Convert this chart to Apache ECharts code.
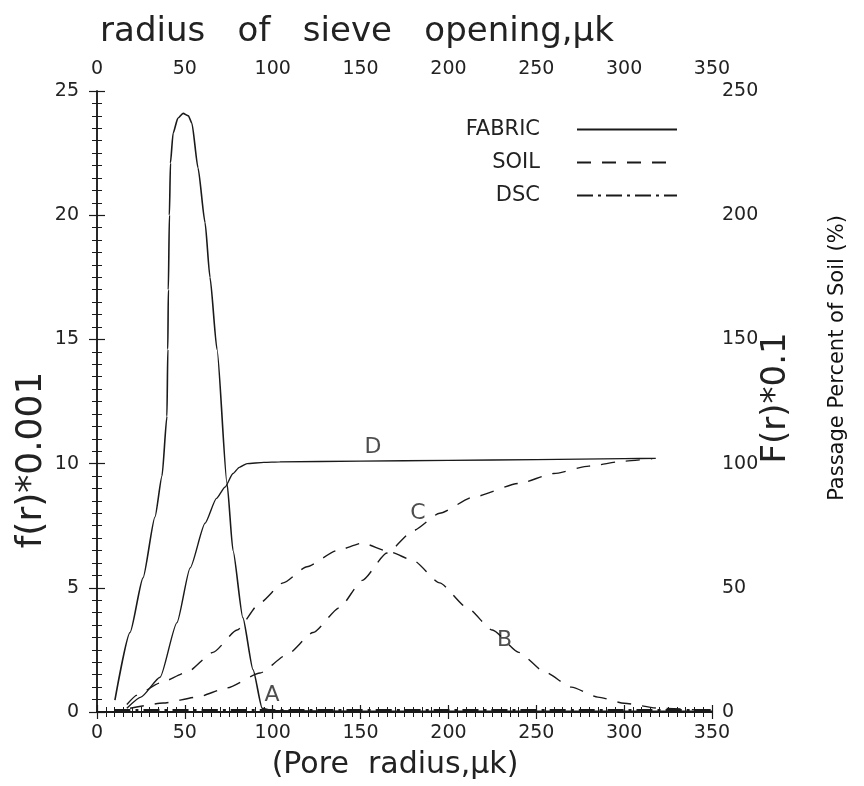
<!DOCTYPE html>
<html><head><meta charset="utf-8">
<script src="https://cdn.jsdelivr.net/npm/echarts@6/dist/echarts.min.js"></script>
<style>html,body{margin:0;padding:0;background:#fff}#c{width:864px;height:786px}</style>
</head><body><div id="c"></div>
<script>
// ---- data ----
// Curve A: fabric pore-size density f(r) (left axis, x0.001)
const fabricPdfX = [10.2, 18.8, 26.2, 33.0, 37.0, 39.8, 40.3, 40.6, 41.2, 41.8, 43.3, 46, 49, 52, 54, 57.5, 61.5, 64.3, 68.3, 74, 77.4, 83, 88.8, 94, 100, 150, 200, 250, 300, 350];
const fabricPdfY = [0.48, 3.2, 5.4, 7.85, 9.5, 11.9, 14.6, 17.0, 20.0, 22.1, 23.3, 23.9, 24.1, 24.0, 23.7, 21.9, 19.7, 17.5, 14.6, 9.2, 6.5, 3.8, 1.7, 0.15, 0.05, 0.03, 0.03, 0.03, 0.03, 0.03];
// Curve D: fabric cumulative F(r) (right axis, %)
const fabricCumX = [17, 25, 35.9, 45.5, 53, 61.5, 68, 72.9, 77.4, 81, 85.4, 95, 104, 150, 200, 250, 300, 318];
const fabricCumY = [1.5, 6, 14, 36, 58, 76, 86, 90.6, 96, 98.5, 100, 100.5, 100.7, 101, 101.3, 101.6, 102, 102.1];
// Curve B: soil density f(r) (left axis)
const soilPdfX = [17, 22.8, 35.9, 51.2, 66, 79.7, 92.8, 106, 119.5, 136.6, 151, 166.8, 180, 195, 210.6, 225, 240, 255, 270, 285, 300, 320, 350];
const soilPdfY = [0.3, 0.68, 1.17, 1.6, 2.4, 3.3, 4.4, 5.2, 5.85, 6.5, 6.8, 6.44, 6.1, 5.2, 4.2, 3.3, 2.4, 1.6, 1.0, 0.6, 0.35, 0.15, 0.05];
// Curve C: soil cumulative (right axis, %)
const soilCumX = [18.8, 37.6, 57, 74, 92.8, 108, 123, 138, 151, 165, 180, 195, 214, 240, 260, 280, 300, 316];
const soilCumY = [1.5, 3.6, 6, 9.7, 15.7, 23, 32, 42, 53, 64, 73, 80, 86.5, 92, 96, 99, 101, 102];
// DSC: lies along the base line
const dscX = [10, 100, 200, 300, 350];
const dscY = [0.08, 0.08, 0.08, 0.08, 0.08];
// curve letters
const annText = ['A', 'B', 'C', 'D'];
const annX = [99.6, 232, 182.7, 157];
const annY = [0.68, 2.9, 8.0, 10.67];
// axis ticks
const xMin = 0, xMax = 350, xStep = 50;
const yLeftMax = 25, yLeftStep = 5;
const yRightMax = 250, yRightStep = 50;

const zip = (xs, ys) => xs.map((x, i) => [x, ys[i]]);
const FONT = 'DejaVu Sans';
const ink = '#1a1a1a';

const xAxisBase = {
  type: 'value', min: xMin, max: xMax, interval: xStep,
  axisLine: {show: true, lineStyle: {color: ink, width: 2}},
  axisTick: {show: true, inside: false, length: 7, lineStyle: {color: ink, width: 1.2}},
  minorTick: {show: true, splitNumber: 10, length: 5, lineStyle: {color: ink, width: 1}},
  splitLine: {show: false},
  axisLabel: {fontSize: 19, color: '#222', fontFamily: FONT, margin: 12}
};
const yAxisBase = {
  type: 'value', min: 0,
  axisLine: {show: true, lineStyle: {color: ink, width: 1.5}},
  axisTick: {show: true, inside: false, length: 8, lineStyle: {color: ink, width: 1.2}},
  minorTick: {show: true, splitNumber: 10, length: 5, lineStyle: {color: ink, width: 1}},
  splitLine: {show: false},
  axisLabel: {fontSize: 19, color: '#222', fontFamily: FONT, margin: 10}
};

const lineSeries = (name, data, yIdx, type, width) => ({
  name, type: 'line', data, xAxisIndex: 0, yAxisIndex: yIdx,
  symbol: 'none', smooth: 0.2, smoothMonotone: 'x',
  lineStyle: {color: ink, width, type},
  itemStyle: {color: ink}, z: 3
});

const chart = echarts.init(document.getElementById('c'), null, {renderer: 'canvas'});
chart.setOption({
  animation: false,
  backgroundColor: '#fff',
  grid: {left: 97, right: 152, top: 91, bottom: 74},
  xAxis: [
    Object.assign({}, xAxisBase, {position: 'bottom'}),
    Object.assign({}, xAxisBase, {position: 'top'})
  ],
  yAxis: [
    Object.assign({}, yAxisBase, {position: 'left', max: yLeftMax, interval: yLeftStep,
      axisLabel: Object.assign({}, yAxisBase.axisLabel, {margin: 18})}),
    Object.assign({}, yAxisBase, {position: 'right', max: yRightMax, interval: yRightStep})
  ],
  legend: {
    data: ['FABRIC', 'SOIL', 'DSC'],
    orient: 'vertical', align: 'right',
    right: 181, top: 114,
    itemWidth: 100, itemHeight: 14, itemGap: 12,
    itemStyle: {opacity: 0},
    textStyle: {fontSize: 21, fontFamily: FONT, color: '#222', padding: [0, 32, 0, 0]},
    selectedMode: false
  },
  graphic: [
    {type: 'text', x: 357, y: 32, style: {text: 'radius   of   sieve   opening,μk', font: '34px "DejaVu Sans"', fill: '#222', textAlign: 'center', textVerticalAlign: 'middle'}},
    {type: 'text', x: 395, y: 765, style: {text: '(Pore  radius,μk)', font: '30px "DejaVu Sans"', fill: '#222', textAlign: 'center', textVerticalAlign: 'middle'}},
    {type: 'text', x: 32, y: 460, rotation: Math.PI / 2, style: {text: 'f(r)*0.001', font: '36px "DejaVu Sans"', fill: '#222', textAlign: 'center', textVerticalAlign: 'middle'}},
    {type: 'text', x: 776, y: 398, rotation: Math.PI / 2, style: {text: 'F(r)*0.1', font: '34px "DejaVu Sans"', fill: '#222', textAlign: 'center', textVerticalAlign: 'middle'}},
    {type: 'text', x: 838, y: 358, rotation: Math.PI / 2, style: {text: 'Passage Percent of Soil (%)', font: '21px "DejaVu Sans"', fill: '#111', textAlign: 'center', textVerticalAlign: 'middle'}}
  ],
  series: [
    lineSeries('FABRIC', zip(fabricPdfX, fabricPdfY), 0, 'solid', 1.6),
    lineSeries('FABRIC', zip(fabricCumX, fabricCumY), 1, 'solid', 1.4),
    lineSeries('SOIL', zip(soilPdfX, soilPdfY), 0, [14, 11], 1.4),
    lineSeries('SOIL', zip(soilCumX, soilCumY), 1, [14, 11], 1.4),
    lineSeries('DSC', zip(dscX, dscY), 0, [16, 5, 3, 5], 2),
    {
      name: 'labels', type: 'scatter', xAxisIndex: 0, yAxisIndex: 0,
      symbolSize: 0, silent: true,
      data: annText.map((t, i) => ({name: t, value: [annX[i], annY[i]]})),
      label: {show: true, position: 'inside', formatter: p => p.name, fontSize: 22, fontFamily: FONT, color: '#222'}
    }
  ]
});
</script>
</body></html>
